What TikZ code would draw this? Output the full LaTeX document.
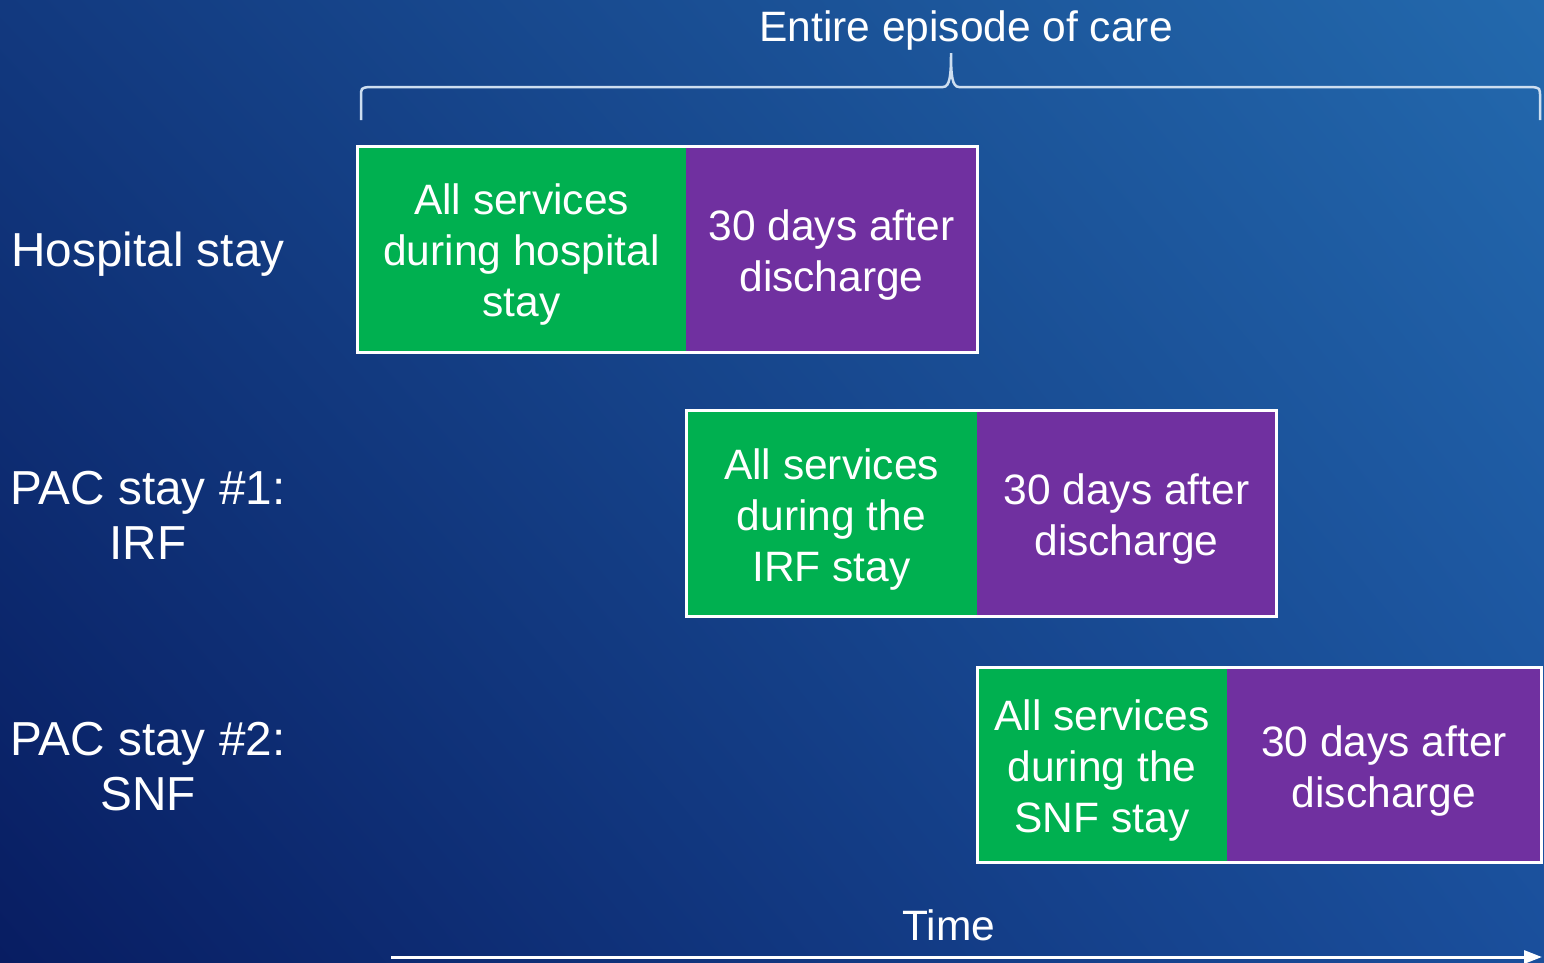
\documentclass[tikz,border=0pt]{standalone}
\usepackage{fontspec}
\setmainfont{Liberation Sans}
\usetikzlibrary{arrows.meta,shadings}
\definecolor{bgUL}{RGB}{18,57,127}
\definecolor{bgUR}{RGB}{35,105,173}
\definecolor{bgLL}{RGB}{8,29,98}
\definecolor{bgLR}{RGB}{26,79,156}
\definecolor{gbox}{RGB}{0,176,80}
\definecolor{pbox}{RGB}{112,48,160}
\definecolor{bracec}{RGB}{205,222,240}
\tikzset{
  part/.style={anchor=north west, inner sep=0pt, outer sep=0pt},
  greenpart/.style={part, fill=gbox},
  purplepart/.style={part, fill=pbox},
  boxtext/.style={text=white, align=center, inner sep=0pt, yshift=-6pt,
    font=\fontsize{42.5}{51}\selectfont},
  frame/.style={draw=white, line width=3pt},
  rowlabel/.style={text=white, align=center, font=\fontsize{47.7}{55}\selectfont, inner sep=0pt},
  toplabel/.style={text=white, font=\fontsize{42.5}{50}\selectfont, inner sep=0pt},
  bracestyle/.style={draw=bracec, line width=2.5pt},
  timearrow/.style={draw=white, line width=3pt, -{Triangle[length=18pt,width=13pt]}}
}
\begin{document}
\begin{tikzpicture}[x=1pt,y=-1pt]
\useasboundingbox (0,0) rectangle (1544,962);
\shade[upper left=bgUL, upper right=bgUR, lower left=bgLL, lower right=bgLR] (0,0) rectangle (1544,962);

% title and brace
\node[toplabel] (title) at (966,31) {Entire episode of care};
\coordinate (bl) at (361,120);
\coordinate (br) at (1540,120);
\draw[bracestyle] (bl) -- (361,97) .. controls (361,88) .. (369,87) -- (943,87)
  .. controls (950,87) and (951,75) .. (951,53)
  .. controls (951,75) and (952,87) .. (959,87) -- (1532,87)
  .. controls (1540,88) .. (1540,97) -- (br);

% row labels
\node[rowlabel] (lab1) at (148,254) {Hospital stay};
\node[rowlabel] (lab2) at (148,515) {PAC stay \#1:\\IRF};
\node[rowlabel] (lab3) at (148,767) {PAC stay \#2:\\SNF};

% row 1
\node[greenpart, minimum width=329pt, minimum height=206pt] (g1) at (357,146) {};
\node[purplepart, minimum width=291pt, minimum height=206pt] (p1) at (686,146) {};
\draw[frame] (g1.north west) rectangle (p1.south east);
\node[boxtext] (g1t) at (g1.center) {All services\\during hospital\\stay};
\node[boxtext] (p1t) at (p1.center) {30 days after\\discharge};

% row 2
\node[greenpart, minimum width=291pt, minimum height=206pt] (g2) at (686,410) {};
\node[purplepart, minimum width=299pt, minimum height=206pt] (p2) at (977,410) {};
\draw[frame] (g2.north west) rectangle (p2.south east);
\node[boxtext] (g2t) at (g2.center) {All services\\during the\\IRF stay};
\node[boxtext] (p2t) at (p2.center) {30 days after\\discharge};

% row 3
\node[greenpart, minimum width=250pt, minimum height=195pt] (g3) at (977,667) {};
\node[purplepart, minimum width=314pt, minimum height=195pt] (p3) at (1227,667) {};
\draw[frame] (g3.north west) rectangle (p3.south east);
\node[boxtext] (g3t) at (g3.center) {All services\\during the\\SNF stay};
\node[boxtext] (p3t) at (p3.center) {30 days after\\discharge};

% time axis
\node[toplabel] (time) at (949,925) {Time};
\coordinate (t0) at (391,957);
\coordinate (t1) at (1542,957);
\draw[timearrow] (t0) -- (t1);
\end{tikzpicture}
\end{document}
